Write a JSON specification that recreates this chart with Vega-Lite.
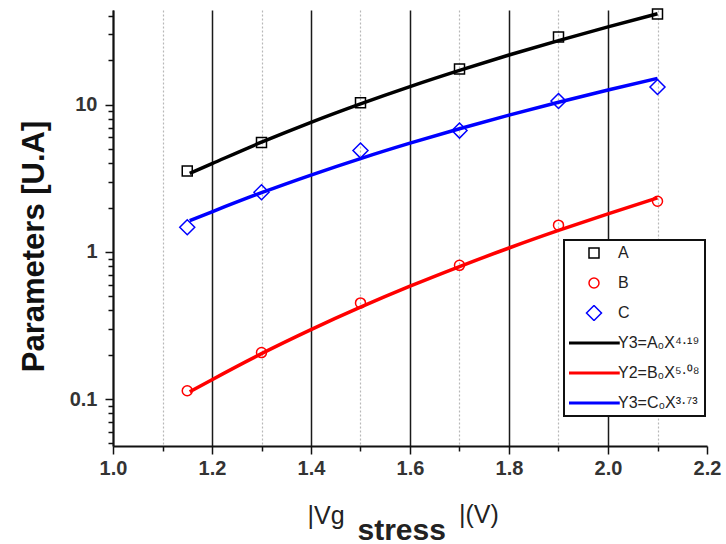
{
  "$schema": "https://vega.github.io/schema/vega-lite/v6.json",
  "width": 594,
  "height": 436,
  "autosize": {"type": "none"},
  "padding": {"left": 113, "top": 10, "right": 19, "bottom": 98},
  "background": "white",
  "config": {"font": "Liberation Sans", "view": {"stroke": null}, "legend": {"strokeWidth": 2}},
  "title": {
    "text": "|(V)",
    "orient": "bottom",
    "anchor": "start",
    "frame": "group",
    "dx": 346,
    "dy": -22,
    "baseline": "alphabetic",
    "fontSize": 25,
    "fontWeight": "normal",
    "color": "#222222",
    "offset": 0
  },
  "layer": [
    {
      "data": {"values": [
        {"series": "A", "x": 1.15, "y": 3.54},
        {"series": "A", "x": 1.3, "y": 5.53},
        {"series": "A", "x": 1.5, "y": 10.3},
        {"series": "A", "x": 1.7, "y": 17.5},
        {"series": "A", "x": 1.9, "y": 28.8},
        {"series": "A", "x": 2.1, "y": 41.3},
        {"series": "B", "x": 1.15, "y": 0.114},
        {"series": "B", "x": 1.3, "y": 0.207},
        {"series": "B", "x": 1.5, "y": 0.45},
        {"series": "B", "x": 1.7, "y": 0.81},
        {"series": "B", "x": 1.9, "y": 1.52},
        {"series": "B", "x": 2.1, "y": 2.21},
        {"series": "C", "x": 1.15, "y": 1.47},
        {"series": "C", "x": 1.3, "y": 2.54},
        {"series": "C", "x": 1.5, "y": 4.88},
        {"series": "C", "x": 1.7, "y": 6.67},
        {"series": "C", "x": 1.9, "y": 10.6},
        {"series": "C", "x": 2.1, "y": 13.2}
      ]},
      "mark": {"type": "point", "filled": false, "opacity": 1, "size": 100, "strokeWidth": 1.5},
      "encoding": {
        "x": {
          "field": "x", "type": "quantitative",
          "scale": {"domain": [1.0, 2.2], "nice": false, "zero": false},
          "axis": {
            "values": [1.0, 1.1, 1.2, 1.3, 1.4, 1.5, 1.6, 1.7, 1.8, 1.9, 2.0, 2.1, 2.2],
            "labelExpr": "round(datum.value*10) % 2 == 0 ? format(datum.value, '.1f') : ''",
            "labelOverlap": false,
            "labelFlush": false,
            "labelFontSize": 20,
            "labelFontWeight": "bold",
            "labelColor": "#333333",
            "labelPadding": 4,
            "grid": true,
            "gridColor": {"condition": {"test": "round(datum.value*10) % 2 == 1", "value": "#b8b8b8"}, "value": "#1a1a1a"},
            "gridDash": {"condition": {"test": "round(datum.value*10) % 2 == 1", "value": [2, 2]}, "value": []},
            "gridWidth": {"condition": {"test": "round(datum.value*10) % 2 == 1", "value": 1.2}, "value": 1.5},
            "gridOpacity": {"condition": {"test": "datum.value > 2.15", "value": 0}, "value": 1},
            "tickSize": {"condition": {"test": "round(datum.value*10) % 2 == 1", "value": 5}, "value": 8},
            "tickColor": "#111111",
            "tickWidth": 1.5,
            "domainColor": "#111111",
            "domainWidth": 2,
            "title": "|Vg",
            "titleFontSize": 25,
            "titleFontWeight": "normal",
            "titleColor": "#222222",
            "titleAlign": "left",
            "titleBaseline": "alphabetic",
            "titleX": 194,
            "titleY": 77
          }
        },
        "y": {
          "field": "y", "type": "quantitative",
          "scale": {"type": "log", "domain": [0.048, 44], "nice": false},
          "axis": {
            "values": [0.05, 0.06, 0.07, 0.08, 0.09, 0.1, 0.2, 0.3, 0.4, 0.5, 0.6, 0.7, 0.8, 0.9, 1, 2, 3, 4, 5, 6, 7, 8, 9, 10, 20, 30, 40],
            "labelExpr": "datum.value == 0.1 ? '0.1' : datum.value == 1 ? '1' : datum.value == 10 ? '10' : ''",
            "labelOverlap": false,
            "labelFlush": false,
            "labelFontSize": 20,
            "labelFontWeight": "bold",
            "labelColor": "#333333",
            "labelPadding": 8,
            "grid": false,
            "tickSize": {"condition": {"test": "datum.value == 0.1 || datum.value == 1 || datum.value == 10", "value": 8}, "value": 5},
            "tickColor": "#111111",
            "tickWidth": 1.5,
            "domainColor": "#111111",
            "domainWidth": 2,
            "title": "Parameters [U.A]",
            "titleFontSize": 31,
            "titleFontWeight": "bold",
            "titleColor": "#111111",
            "titleX": -79,
            "titleY": 236,
            "titleAlign": "center",
            "titleBaseline": "middle",
            "titleAngle": -90
          }
        },
        "color": {
          "field": "series", "type": "nominal",
          "scale": {
            "domain": ["A", "B", "C", "Y3=A₀X⁴·¹⁹", "Y2=B₀X⁵·⁰⁸", "Y3=C₀X³·⁷³"],
            "range": ["#000000", "#ff0000", "#0000ff", "#000000", "#ff0000", "#0000ff"]
          },
          "legend": {
            "orient": "none", "legendX": 451, "legendY": 230, "title": null,
            "fillColor": "white", "strokeColor": "#111111", "padding": 5,
            "symbolSize": 100, "symbolStrokeWidth": 1.5, "symbolOffset": 17,
            "clipHeight": 16, "rowPadding": 14,
            "labelFontSize": 16, "labelOffset": 16, "labelColor": "#222222", "labelLimit": 300,
            "symbolFillColor": "transparent"
          }
        },
        "shape": {
          "field": "series", "type": "nominal",
          "scale": {
            "domain": ["A", "B", "C", "Y3=A₀X⁴·¹⁹", "Y2=B₀X⁵·⁰⁸", "Y3=C₀X³·⁷³"],
            "range": ["square", "circle", "M-1.5,0L0,-1.5L1.5,0L0,1.5Z", "M-5,-0.15H5V0.15H-5Z", "M-5,-0.15H5V0.15H-5Z", "M-5,-0.15H5V0.15H-5Z"]
          },
          "legend": {
            "orient": "none", "legendX": 451, "legendY": 230, "title": null,
            "fillColor": "white", "strokeColor": "#111111", "padding": 5,
            "symbolSize": 100, "symbolStrokeWidth": 1.5, "symbolOffset": 17,
            "clipHeight": 16, "rowPadding": 14,
            "labelFontSize": 16, "labelOffset": 16, "labelColor": "#222222", "labelLimit": 300,
            "symbolFillColor": "transparent"
          }
        }
      }
    },
    {
      "data": {"values": [
        {"series": "Y3=A₀X⁴·¹⁹", "x": 1.155, "y": 3.42},
        {"series": "Y3=A₀X⁴·¹⁹", "x": 1.2, "y": 3.98},
        {"series": "Y3=A₀X⁴·¹⁹", "x": 1.3, "y": 5.56},
        {"series": "Y3=A₀X⁴·¹⁹", "x": 1.4, "y": 7.59},
        {"series": "Y3=A₀X⁴·¹⁹", "x": 1.5, "y": 10.13},
        {"series": "Y3=A₀X⁴·¹⁹", "x": 1.6, "y": 13.28},
        {"series": "Y3=A₀X⁴·¹⁹", "x": 1.7, "y": 17.11},
        {"series": "Y3=A₀X⁴·¹⁹", "x": 1.8, "y": 21.75},
        {"series": "Y3=A₀X⁴·¹⁹", "x": 1.9, "y": 27.28},
        {"series": "Y3=A₀X⁴·¹⁹", "x": 2.0, "y": 33.82},
        {"series": "Y3=A₀X⁴·¹⁹", "x": 2.1, "y": 41.49},
        {"series": "Y2=B₀X⁵·⁰⁸", "x": 1.155, "y": 0.112},
        {"series": "Y2=B₀X⁵·⁰⁸", "x": 1.2, "y": 0.1355},
        {"series": "Y2=B₀X⁵·⁰⁸", "x": 1.3, "y": 0.2035},
        {"series": "Y2=B₀X⁵·⁰⁸", "x": 1.4, "y": 0.2964},
        {"series": "Y2=B₀X⁵·⁰⁸", "x": 1.5, "y": 0.4209},
        {"series": "Y2=B₀X⁵·⁰⁸", "x": 1.6, "y": 0.5843},
        {"series": "Y2=B₀X⁵·⁰⁸", "x": 1.7, "y": 0.7945},
        {"series": "Y2=B₀X⁵·⁰⁸", "x": 1.8, "y": 1.063},
        {"series": "Y2=B₀X⁵·⁰⁸", "x": 1.9, "y": 1.399},
        {"series": "Y2=B₀X⁵·⁰⁸", "x": 2.0, "y": 1.815},
        {"series": "Y2=B₀X⁵·⁰⁸", "x": 2.1, "y": 2.326},
        {"series": "Y3=C₀X³·⁷³", "x": 1.155, "y": 1.63},
        {"series": "Y3=C₀X³·⁷³", "x": 1.2, "y": 1.873},
        {"series": "Y3=C₀X³·⁷³", "x": 1.3, "y": 2.525},
        {"series": "Y3=C₀X³·⁷³", "x": 1.4, "y": 3.328},
        {"series": "Y3=C₀X³·⁷³", "x": 1.5, "y": 4.306},
        {"series": "Y3=C₀X³·⁷³", "x": 1.6, "y": 5.477},
        {"series": "Y3=C₀X³·⁷³", "x": 1.7, "y": 6.867},
        {"series": "Y3=C₀X³·⁷³", "x": 1.8, "y": 8.5},
        {"series": "Y3=C₀X³·⁷³", "x": 1.9, "y": 10.4},
        {"series": "Y3=C₀X³·⁷³", "x": 2.0, "y": 12.59},
        {"series": "Y3=C₀X³·⁷³", "x": 2.1, "y": 15.1}
      ]},
      "mark": {"type": "line", "interpolate": "monotone", "strokeWidth": 3.5},
      "encoding": {
        "x": {
          "field": "x", "type": "quantitative",
          "scale": {"domain": [1.0, 2.2], "nice": false, "zero": false},
          "axis": {
            "orient": "bottom",
            "domain": false, "ticks": false, "labels": false, "grid": false,
            "title": "stress",
            "titleFontSize": 30,
            "titleFontWeight": "bold",
            "titleColor": "#222222",
            "titleAlign": "left",
            "titleBaseline": "alphabetic",
            "titleX": 244,
            "titleY": 93
          }
        },
        "y": {"field": "y", "type": "quantitative", "scale": {"type": "log", "domain": [0.048, 44], "nice": false}},
        "color": {"field": "series", "type": "nominal"},
        "detail": {"field": "series"}
      }
    }
  ],
  "resolve": {"axis": {"x": "independent"}}
}
